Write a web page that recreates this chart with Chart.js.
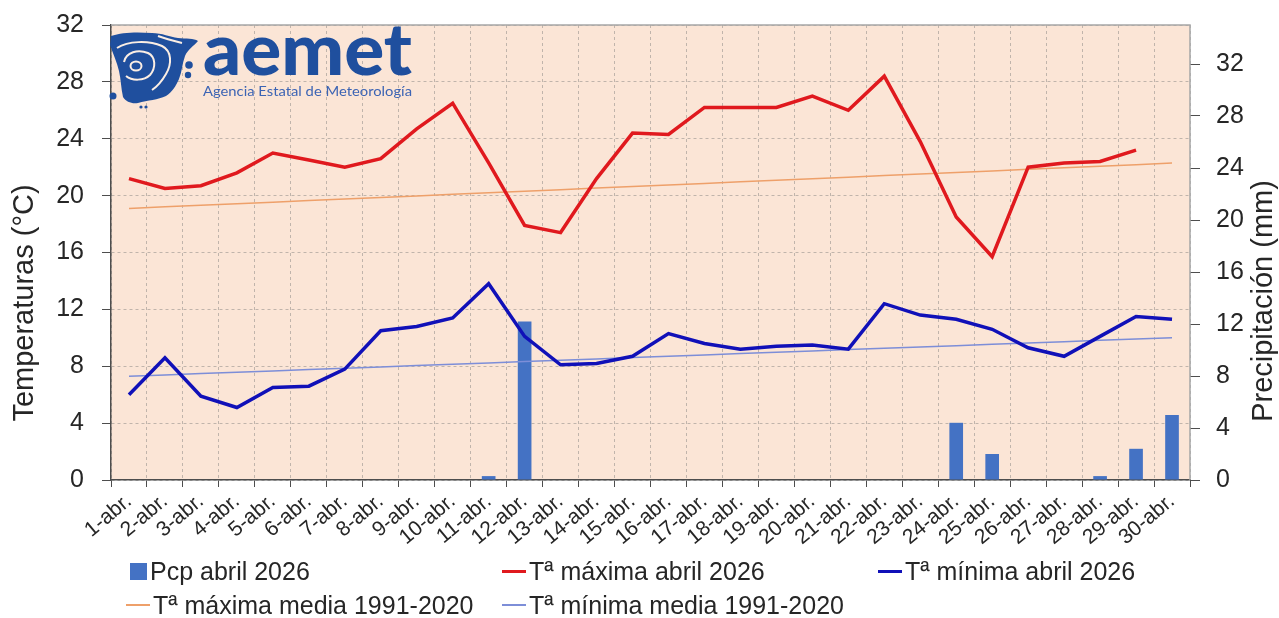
<!DOCTYPE html>
<html lang="es">
<head>
<meta charset="utf-8">
<title>Temperaturas y precipitación abril 2026</title>
<script src="https://cdn.jsdelivr.net/npm/chart.js@4.4.1/dist/chart.umd.min.js"></script>
<style>
  html, body { margin: 0; padding: 0; background: #fff; }
  #wrap { position: relative; width: 1279px; height: 618px; font-family: "Liberation Sans", Arial, sans-serif; }
  #chart { position: absolute; left: 0; top: 0; }
  #logo { position: absolute; left: 108px; top: 26px; pointer-events: none; }
  .leg { position: absolute; font-size: 25px; color: #262626; line-height: 28px; white-space: nowrap; }
  .leg i { display: inline-block; vertical-align: middle; margin-right: 3px; position: relative; top: -2px; }
</style>
</head>
<body>
<div id="wrap">
  <canvas id="chart" width="1279" height="618"></canvas>
  <svg id="logo" width="320" height="84" viewBox="0 0 320 84">
    <path fill="#1f4f9e" d="M3,10 C14,6 30,6 44,7 C54,7 62,11 70,12 C78,13 86,12 90,15 C86,20 80,23 77,30 C74,38 74,46 71,53 C68,60 64,66 58,70 C50,74 40,74 30,77 C24,78 18,76 15,71 C13,62 13,54 11,45 C9,36 5,28 2,19 Z"/>
    <ellipse cx="28" cy="40" rx="5.5" ry="4.5" fill="none" stroke="#fbeee4" stroke-width="2"/>
    <path fill="none" stroke="#fbeee4" stroke-width="2" d="M16,36 C18,26 30,23 40,27 C48,31 48,42 42,49 C36,55 24,55 18,50"/>
    <path fill="none" stroke="#fbeee4" stroke-width="2" d="M9,22 C20,15 40,14 54,20 C64,25 64,38 58,48 C54,55 50,60 44,64"/>
    <path fill="none" stroke="#fbeee4" stroke-width="2" d="M50,10 C58,13 66,15 74,17"/>
    <circle cx="81" cy="39" r="3.8" fill="#1f4f9e"/>
    <circle cx="80" cy="49" r="3.2" fill="#1f4f9e"/>
    <circle cx="5" cy="70" r="3.5" fill="#1f4f9e"/>
    <circle cx="33" cy="81" r="1.6" fill="#1f4f9e"/>
    <circle cx="38" cy="81" r="1.6" fill="#1f4f9e"/>
    <text x="95" y="49" textLength="209" lengthAdjust="spacingAndGlyphs" font-family="Lato, 'Open Sans', sans-serif" font-weight="900" font-size="72" fill="#1f4f9e">aemet</text>
    <text x="95" y="70" textLength="209" lengthAdjust="spacingAndGlyphs" font-family="Lato, 'Open Sans', sans-serif" font-size="14" fill="#3c64b4">Agencia Estatal de Meteorología</text>
  </svg>
  <div id="legend"></div>
</div>

<script>
'use strict';

// *********** DATA ****************

let dias = ['1-abr.','2-abr.','3-abr.','4-abr.','5-abr.','6-abr.','7-abr.','8-abr.','9-abr.','10-abr.',
  '11-abr.','12-abr.','13-abr.','14-abr.','15-abr.','16-abr.','17-abr.','18-abr.','19-abr.','20-abr.',
  '21-abr.','22-abr.','23-abr.','24-abr.','25-abr.','26-abr.','27-abr.','28-abr.','29-abr.','30-abr.'];

let pcp = [0,0,0,0,0,0,0,0,0,0,0.3,12.2,0,0,0,0,0,0,0,0,0,0,0,4.4,2.0,0,0,0.3,2.4,5.0];

let tMax = [21.2,20.5,20.7,21.6,23.0,22.5,22.0,22.6,24.7,26.5,22.3,17.9,17.4,21.2,24.4,
  24.3,26.2,26.2,26.2,27.0,26.0,28.4,23.8,18.5,15.7,22.0,22.3,22.4,23.2,null];

let tMin = [6.0,8.6,5.9,5.1,6.5,6.6,7.8,10.5,10.8,11.4,13.8,10.1,8.1,8.2,8.7,
  10.3,9.6,9.2,9.4,9.5,9.2,12.4,11.6,11.3,10.6,9.3,8.7,10.1,11.5,11.3];

let tMaxMedia = [19.10,19.21,19.32,19.43,19.54,19.65,19.76,19.87,19.98,20.09,20.20,20.31,20.42,20.53,20.64,
  20.75,20.86,20.97,21.08,21.19,21.30,21.41,21.52,21.63,21.74,21.85,21.96,22.07,22.18,22.29];

let tMinMedia = [7.30,7.39,7.49,7.58,7.67,7.77,7.86,7.95,8.05,8.14,8.23,8.33,8.42,8.51,8.61,
  8.70,8.79,8.89,8.98,9.07,9.17,9.26,9.35,9.45,9.54,9.63,9.73,9.82,9.91,10.00];

let ticksTemp = [0,4,8,12,16,20,24,28,32];
let ticksPcp = [0,4,8,12,16,20,24,28,32];

// ********** STYLE ********************

let fontFamily = '"Liberation Sans", Arial, sans-serif';
let textColor = '#262626';
let gridColor = 'rgba(120,120,120,0.45)';
let axisColor = '#4d4d4d';

// ********** PLUGINS ********************

// peach plot area + solid frame on top and right
let plotFrame = {
  id: 'plotFrame',
  beforeDraw(chart){
    let a = chart.chartArea;
    let ctx = chart.ctx;
    ctx.save();
    ctx.fillStyle = '#fbe5d6';
    ctx.fillRect(a.left, a.top, a.right - a.left, a.bottom - a.top);
    ctx.restore();
  },
  beforeDatasetsDraw(chart){
    let a = chart.chartArea;
    let ctx = chart.ctx;
    ctx.save();
    ctx.strokeStyle = '#a6a6a6';
    ctx.lineWidth = 1.5;
    ctx.beginPath();
    ctx.moveTo(a.left, a.top);
    ctx.lineTo(a.right, a.top);
    ctx.lineTo(a.right, a.bottom);
    ctx.stroke();
    ctx.restore();
  }
};

// axis titles, both read bottom to top
let axisTitles = {
  id: 'axisTitles',
  afterDraw(chart){
    let ctx = chart.ctx;
    let drawTitle = (text, x, y) => {
      ctx.save();
      ctx.translate(x, y);
      ctx.rotate(-Math.PI / 2);
      ctx.font = '29px ' + fontFamily;
      ctx.fillStyle = textColor;
      ctx.textAlign = 'center';
      ctx.textBaseline = 'middle';
      ctx.fillText(text, 0, 0);
      ctx.restore();
    };
    drawTitle('Temperaturas (°C)', 25, 303);
    drawTitle('Precipitación (mm)', 1264, 301);
  }
};

// fixed axis box so the plot area sits where the original one does
function fixBox(size, prop){
  return function(scale){
    scale[prop] = size;
    scale.paddingTop = 0;
    scale.paddingBottom = 0;
  };
}

// ********** CHART ********************

let ctx = document.getElementById('chart').getContext('2d');

let myChart = new Chart(ctx, {
  type: 'bar',
  data: {
    labels: dias,
    datasets: [
      {
        type: 'bar',
        label: 'Pcp abril 2026',
        data: pcp,
        yAxisID: 'y1',
        backgroundColor: '#4472c4',
        barPercentage: 0.38,
        categoryPercentage: 1,
        order: 10
      },
      {
        type: 'line',
        label: 'Tª máxima abril 2026',
        data: tMax,
        yAxisID: 'y',
        borderColor: '#e0191e',
        borderWidth: 3.5,
        pointRadius: 0,
        tension: 0,
        spanGaps: false,
        order: 1
      },
      {
        type: 'line',
        label: 'Tª mínima abril 2026',
        data: tMin,
        yAxisID: 'y',
        borderColor: '#1010b8',
        borderWidth: 3.5,
        pointRadius: 0,
        tension: 0,
        order: 2
      },
      {
        type: 'line',
        label: 'Tª máxima media 1991-2020',
        data: tMaxMedia,
        yAxisID: 'y',
        borderColor: '#eea06a',
        borderWidth: 1.5,
        pointRadius: 0,
        tension: 0,
        order: 3
      },
      {
        type: 'line',
        label: 'Tª mínima media 1991-2020',
        data: tMinMedia,
        yAxisID: 'y',
        borderColor: '#7d8ed8',
        borderWidth: 1.5,
        pointRadius: 0,
        tension: 0,
        order: 4
      }
    ]
  },
  options: {
    responsive: false,
    animation: false,
    layout: { padding: { top: 25, left: 0, right: 0, bottom: 0 } },
    plugins: {
      legend: { display: false },
      tooltip: { enabled: false }
    },
    scales: {
      x: {
        offset: true,
        grid: {
          offset: true,
          color: gridColor,
          lineWidth: 1,
          tickLength: 7,
          tickColor: axisColor,
          tickBorderDash: []
        },
        border: { display: true, color: axisColor, width: 1.5, dash: [3, 3] },
        ticks: {
          font: { family: fontFamily, size: 21 },
          color: textColor,
          minRotation: 40,
          maxRotation: 40,
          autoSkip: false,
          padding: 2
        },
        afterFit(scale){ scale.height = 138; }
      },
      y: {
        position: 'left',
        min: 0,
        max: 32,
        grid: {
          color: gridColor,
          lineWidth: 1,
          tickLength: 9,
          tickColor: axisColor,
          tickBorderDash: []
        },
        border: { display: true, color: axisColor, width: 1.5, dash: [3, 3] },
        ticks: {
          font: { family: fontFamily, size: 25 },
          color: textColor,
          padding: 18
        },
        afterBuildTicks(scale){ scale.ticks = ticksTemp.map(v => ({ value: v })); },
        afterFit: fixBox(111, 'width')
      },
      y1: {
        position: 'right',
        min: 0,
        max: 35,
        grid: {
          drawOnChartArea: false,
          tickLength: 10,
          tickColor: axisColor
        },
        border: { display: false },
        ticks: {
          font: { family: fontFamily, size: 25 },
          color: textColor,
          padding: 16
        },
        afterBuildTicks(scale){ scale.ticks = ticksPcp.map(v => ({ value: v })); },
        afterFit: fixBox(89, 'width')
      }
    }
  },
  plugins: [plotFrame, axisTitles]
});

// ********** LEGEND (Excel style grid) ********************

let legendPos = [[126, 557], [502, 557], [878, 557], [126, 591], [502, 591]];
let legendBox = document.getElementById('legend');
myChart.data.datasets.forEach((ds, i) => {
  let item = document.createElement('div');
  item.className = 'leg';
  item.style.left = legendPos[i][0] + 'px';
  item.style.top = legendPos[i][1] + 'px';
  let mark = document.createElement('i');
  if(ds.type === 'bar'){
    mark.style.width = '17px';
    mark.style.height = '17px';
    mark.style.background = ds.backgroundColor;
    mark.style.marginLeft = '4px';
  }else{
    mark.style.width = '24px';
    mark.style.height = ds.borderWidth > 2 ? '3px' : '2px';
    mark.style.background = ds.borderColor;
  }
  item.appendChild(mark);
  item.appendChild(document.createTextNode(ds.label));
  legendBox.appendChild(item);
});
</script>
</body>
</html>
